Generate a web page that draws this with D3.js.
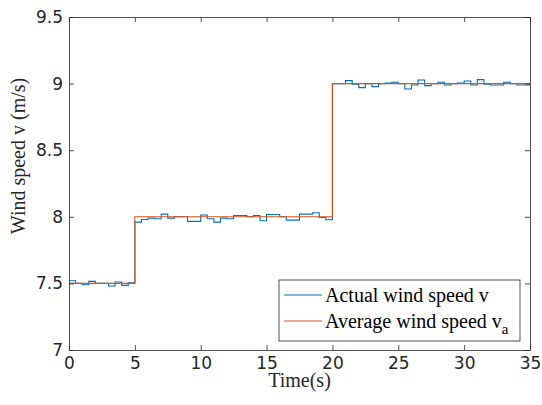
<!DOCTYPE html>
<html>
<head>
<meta charset="utf-8">
<script src="https://cdn.jsdelivr.net/npm/d3@7"></script>
<style>
  body { margin: 0; background: #fff; }
  svg { display: block; }
</style>
</head>
<body>
<script>
// chart data
const xTicks = [0, 5, 10, 15, 20, 25, 30, 35];
const yTicks = [7, 7.5, 8, 8.5, 9, 9.5];
const sampleStep = 0.5; // seconds per sample of the measured wind

// actual wind speed, one value per 0.5 s step
const actualSpeed = [
  7.52, 7.50, 7.49, 7.515, 7.50, 7.50, 7.48, 7.51, 7.485, 7.505,
  7.96, 7.98, 7.99, 7.985, 8.02, 7.99, 8.00, 8.00, 7.966, 7.966,
  8.013, 7.985, 7.96, 7.99, 7.985, 8.01, 8.01, 8.00, 8.01, 7.97,
  8.017, 8.017, 8.00, 7.975, 7.975, 8.02, 8.02, 8.03, 7.995, 7.978,
  9.00, 9.00, 9.022, 8.995, 8.97, 9.00, 8.977, 9.00, 9.005, 9.01,
  9.00, 8.96, 8.99, 9.027, 8.985, 9.00, 9.01, 8.99, 9.00, 9.005,
  9.02, 8.99, 9.03, 8.995, 8.99, 8.99, 9.01, 9.00, 8.99, 8.99
];
// average wind speed, piecewise constant
const avgBreaks = [0, 5, 20, 35];
const avgSpeed = [7.5, 8.0, 9.0];

const legendLabels = ["Actual wind speed v", "Average wind speed v"];
const colors = ["#0072BD", "#D95319"];

//visual setup
const width = 542;
const height = 405;
const margin = {left: 69, right: 12, top: 17, bottom: 55};

let svg = d3.select("body").append("svg")
  .attr("width", width)
  .attr("height", height);

let x = d3.scaleLinear().domain([0, 35]).range([margin.left, width - margin.right]);
let y = d3.scaleLinear().domain([7, 9.5]).range([height - margin.bottom, margin.top]);

//build step points
let actualPts = actualSpeed.map((v, i) => [i * sampleStep, v]);
actualPts.push([35, actualSpeed[actualSpeed.length - 1]]);
let avgPts = avgSpeed.map((v, i) => [avgBreaks[i], v]);
avgPts.push([35, avgSpeed[avgSpeed.length - 1]]);

let line = d3.line()
  .x(d => x(d[0]))
  .y(d => y(d[1]))
  .curve(d3.curveStepAfter);

svg.append("path")
  .datum(actualPts)
  .attr("fill", "none")
  .attr("stroke", colors[0])
  .attr("stroke-width", 1.1)
  .attr("d", line);

svg.append("path")
  .datum(avgPts)
  .attr("fill", "none")
  .attr("stroke", colors[1])
  .attr("stroke-width", 1.1)
  .attr("d", line);

//axes, MATLAB style ticks inside
const axisColor = "#262626";
const tickLen = 5;
let axBottom = svg.append("g")
  .attr("transform", "translate(0," + y(7) + ")")
  .call(d3.axisBottom(x).tickValues(xTicks).tickSizeInner(-tickLen).tickSizeOuter(0).tickPadding(7));
let axTop = svg.append("g")
  .attr("transform", "translate(0," + y(9.5) + ")")
  .call(d3.axisTop(x).tickValues(xTicks).tickSizeInner(-tickLen).tickSizeOuter(0).tickFormat(""));
let axLeft = svg.append("g")
  .attr("transform", "translate(" + x(0) + ",0)")
  .call(d3.axisLeft(y).tickValues(yTicks).tickSizeInner(-tickLen).tickSizeOuter(0).tickPadding(6)
    .tickFormat(d3.format("")));
let axRight = svg.append("g")
  .attr("transform", "translate(" + x(35) + ",0)")
  .call(d3.axisRight(y).tickValues(yTicks).tickSizeInner(-tickLen).tickSizeOuter(0).tickFormat(""));

[axBottom, axTop, axLeft, axRight].forEach(g => {
  g.attr("font-family", "'DejaVu Sans', sans-serif").attr("font-size", 17);
  g.selectAll("path, line").attr("stroke", axisColor).attr("stroke-width", 0.8);
  g.selectAll("text").attr("fill", axisColor);
});

//axis labels
svg.append("text")
  .attr("x", (x(0) + x(35)) / 2)
  .attr("y", 387)
  .attr("text-anchor", "middle")
  .style("font-family", "'Liberation Serif', 'Times New Roman', serif")
  .style("font-size", "20px")
  .attr("fill", axisColor)
  .text("Time(s)");

svg.append("text")
  .attr("transform", "translate(25,156) rotate(-90)")
  .attr("text-anchor", "middle")
  .style("font-family", "'Liberation Serif', 'Times New Roman', serif")
  .style("font-size", "20px")
  .attr("fill", axisColor)
  .text("Wind speed v (m/s)");

//legend
let legend = svg.append("g").attr("transform", "translate(279,280)");
legend.append("rect")
  .attr("width", 241)
  .attr("height", 61)
  .attr("fill", "#fff")
  .attr("stroke", axisColor)
  .attr("stroke-width", 0.8);

legendLabels.forEach((lab, i) => {
  let ly = 15 + i * 26;
  legend.append("line")
    .attr("x1", 5).attr("x2", 43)
    .attr("y1", ly).attr("y2", ly)
    .attr("stroke", colors[i])
    .attr("stroke-width", 1.2);
  let t = legend.append("text")
    .attr("x", 46)
    .attr("y", ly + 7)
    .style("font-family", "'Liberation Serif', 'Times New Roman', serif")
    .style("font-size", "20px")
    .attr("fill", "#000")
    .text(lab);
  if (i == 1) {
    t.append("tspan")
      .attr("dy", 6)
      .style("font-size", "15px")
      .text("a");
  }
});
</script>
</body>
</html>
